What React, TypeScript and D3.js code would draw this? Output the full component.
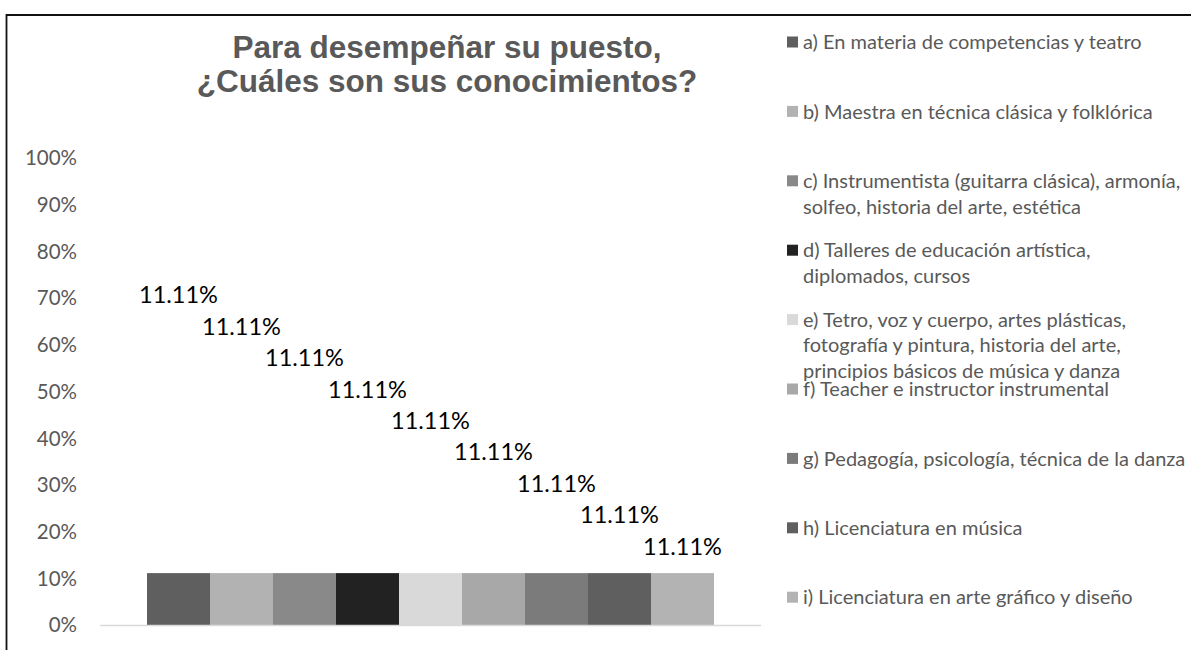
import React from "react";
import * as d3 from "d3";

const categories = [
  "a) En materia de competencias y teatro",
  "b) Maestra en técnica clásica y folklórica",
  "c) Instrumentista (guitarra clásica), armonía,\nsolfeo, historia del arte, estética",
  "d) Talleres de educación artística,\ndiplomados, cursos",
  "e) Tetro, voz y cuerpo, artes plásticas,\nfotografía y pintura, historia del arte,\nprincipios básicos de música y danza",
  "f) Teacher e instructor instrumental",
  "g) Pedagogía, psicología, técnica de la danza",
  "h) Licenciatura en música",
  "i) Licenciatura en arte gráfico y diseño",
];
const values = [0.1111, 0.1111, 0.1111, 0.1111, 0.1111, 0.1111, 0.1111, 0.1111, 0.1111];
const colors = ["#5f5f5f", "#b2b2b2", "#898989", "#222222", "#d9d9d9", "#a8a8a8", "#7b7b7b", "#5f5f5f", "#b3b3b3"];
const yTicks = [0, 0.1, 0.2, 0.3, 0.4, 0.5, 0.6, 0.7, 0.8, 0.9, 1.0];
const titleLines = ["Para desempeñar su puesto,", "¿Cuáles son sus conocimientos?"];

const W = 1191;
const H = 650;
const plot = { left: 100, right: 761, top: 158, bottom: 625 };
const labelTop = 295;
const labelStep = 31.4;
const legend = { x: 787, top: 42, step: 69.4, line: 25.5, sw: 11 };
const textFont = "Lato, 'Open Sans', sans-serif";

export default function App() {
  const y = d3.scaleLinear().domain([0, 1]).range([plot.bottom, plot.top]);
  const outer = d3.scaleBand<string>().domain(["g"]).range([plot.left, plot.right]).paddingOuter(0.0829).paddingInner(0);
  const x = d3
    .scaleBand<number>()
    .domain(d3.range(values.length))
    .range([outer("g")!, outer("g")! + outer.bandwidth()]);
  const fmt = d3.format(".2%");
  const tickFmt = d3.format(".0%");

  return (
    <div style={{ position: "absolute", left: 0, top: 0 }}>
      <svg width={W} height={H} style={{ display: "block", background: "#fff" }}>
        <rect x={0} y={0} width={W} height={H} fill="#fff" />
        {/* frame */}
        <path d={`M6.5,${H + 5} V15 H${W + 5}`} fill="none" stroke="#111" strokeWidth={1.8} />
        {/* title */}
        {titleLines.map((t, i) => (
          <text
            key={i}
            x={447}
            y={47 + i * 33.5}
            dy="0.36em"
            textAnchor="middle"
            fontFamily="'Liberation Sans', Arial, sans-serif"
            fontWeight="bold"
            fontSize={31.5}
            fill="#595959"
          >
            {t}
          </text>
        ))}
        {/* y axis labels */}
        {yTicks.map((t) => (
          <text
            key={t}
            x={77}
            y={y(t)}
            dy="0.36em"
            textAnchor="end"
            fontFamily={textFont}
            fontSize={20.5}
            fill="#595959"
          >
            {tickFmt(t)}
          </text>
        ))}
        {/* bars */}
        {values.map((v, i) => (
          <rect key={i} x={x(i)!} y={y(v)} width={x.bandwidth()} height={y(0) - y(v)} fill={colors[i]} />
        ))}
        {/* axis line */}
        <line x1={plot.left} x2={plot.right} y1={y(0) + 0.5} y2={y(0) + 0.5} stroke="#d9d9d9" strokeWidth={1.5} />
        {/* data labels */}
        {values.map((v, i) => (
          <text
            key={i}
            x={x(i)! + x.bandwidth() / 2}
            y={labelTop + i * labelStep}
            dy="0.36em"
            textAnchor="middle"
            fontFamily={textFont}
            fontSize={23.5}
            fill="#000"
          >
            {fmt(v)}
          </text>
        ))}
        {/* legend */}
        {categories.map((c, i) => {
          const cy = legend.top + i * legend.step;
          const lines = c.split("\n");
          return (
            <g key={i}>
              <rect x={legend.x} y={cy - legend.sw / 2} width={legend.sw} height={legend.sw} fill={colors[i]} />
              {lines.map((l, j) => (
                <text
                  key={j}
                  x={legend.x + 16}
                  y={cy + j * legend.line}
                  dy="0.36em"
                  fontFamily={textFont}
                  fontSize={20}
                  fill="#595959"
                >
                  {l}
                </text>
              ))}
            </g>
          );
        })}
      </svg>
    </div>
  );
}
